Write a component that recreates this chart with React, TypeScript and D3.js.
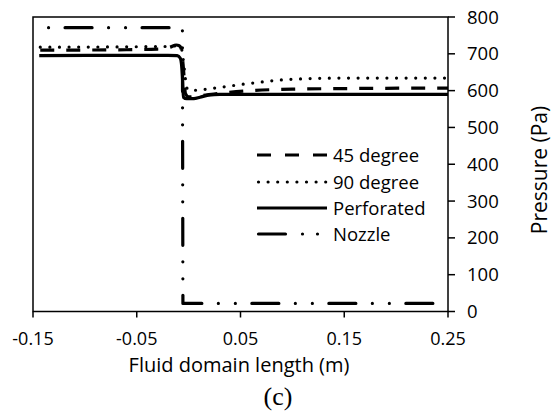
import { line, scaleLinear, curveMonotoneX } from "d3";

const WIDTH = 553;
const HEIGHT = 417;
const PLOT = { left: 33, right: 448, top: 17, bottom: 311.5 };

const xTicks = [-0.15, -0.05, 0.05, 0.15, 0.25];
const yTicks = [0, 100, 200, 300, 400, 500, 600, 700, 800];

// readings, [x (m), pressure (Pa)]
const deg45: [number, number][] = [
  [-0.143, 710], [-0.06, 711], [-0.03, 713], [-0.018, 718], [-0.012, 724],
  [-0.009, 722], [-0.007, 712], [-0.005, 660], [-0.003, 592], [0.0, 583],
  [0.01, 586], [0.03, 593], [0.06, 600], [0.1, 604], [0.17, 606], [0.25, 607],
];
const deg90: [number, number][] = [
  [-0.143, 718], [-0.06, 719], [-0.02, 720], [-0.01, 722], [-0.007, 715],
  [-0.005, 680], [-0.003, 630], [-0.001, 603], [0.005, 601], [0.025, 607],
  [0.06, 620], [0.1, 631], [0.15, 634], [0.25, 634],
];
const perforated: [number, number][] = [
  [-0.144, 695], [-0.02, 696], [-0.011, 695], [-0.008, 688], [-0.006, 640],
  [-0.005, 582], [-0.002, 578], [0.005, 578], [0.011, 582], [0.019, 588],
  [0.03, 590], [0.25, 590],
];
const nozzle: [number, number][] = [
  [-0.135, 771], [-0.006, 771], [-0.0055, 22], [0.25, 22],
];

const series = [
  { name: "45 degree", data: deg45, dash: "14 12", cap: "butt" },
  { name: "90 degree", data: deg90, dash: "0 9.6", cap: "round" },
  { name: "Perforated", data: perforated, dash: "", cap: "butt" },
  { name: "Nozzle", data: nozzle, dash: "0 16.5 27 16.5 0 17", cap: "round" },
];

const FONT = "'Open Sans', sans-serif";

export default function App() {
  const x = scaleLinear().domain([-0.15, 0.25]).range([PLOT.left, PLOT.right]);
  const y = scaleLinear().domain([0, 800]).range([PLOT.bottom, PLOT.top]);

  const smoothLine = line<[number, number]>()
    .x((d) => x(d[0]))
    .y((d) => y(d[1]))
    .curve(curveMonotoneX);
  const straightLine = line<[number, number]>()
    .x((d) => x(d[0]))
    .y((d) => y(d[1]));

  const legendX0 = 257;
  const legendX1 = 327;
  const legendY = [155, 182, 208, 234];

  return (
    <svg
      width={WIDTH}
      height={HEIGHT}
      viewBox={`0 0 ${WIDTH} ${HEIGHT}`}
      style={{ position: "absolute", left: 0, top: 0, background: "#fff" }}
    >
      <defs>
        <clipPath id="plotClip">
          <rect x={PLOT.left} y={PLOT.top - 4} width={PLOT.right - PLOT.left} height={PLOT.bottom - PLOT.top + 8} />
        </clipPath>
      </defs>

      <g clipPath="url(#plotClip)">
        {series.map((s) => {
          const gen = s.name === "Nozzle" ? straightLine : smoothLine;
          return (
            <path
              key={s.name}
              d={gen(s.data) ?? ""}
              fill="none"
              stroke="#000"
              strokeWidth={3.2}
              strokeDasharray={s.dash || undefined}
              strokeLinecap={s.cap as any}
              strokeLinejoin="round"
            />
          );
        })}
      </g>

      {/* plot frame */}
      <rect
        x={PLOT.left}
        y={PLOT.top}
        width={PLOT.right - PLOT.left}
        height={PLOT.bottom - PLOT.top}
        fill="none"
        stroke="#000"
        strokeWidth={1.5}
      />

      {/* x axis ticks */}
      {xTicks.map((t) => (
        <g key={t}>
          <line x1={x(t)} x2={x(t)} y1={PLOT.bottom} y2={PLOT.bottom + 6} stroke="#000" strokeWidth={1.5} />
          <text x={x(t)} y={344.5} textAnchor="middle" fontFamily={FONT} fontSize={18} fill="#000">
            {t.toFixed(2)}
          </text>
        </g>
      ))}

      {/* y axis ticks, right side */}
      {yTicks.map((t) => (
        <g key={t}>
          <line x1={PLOT.right} x2={PLOT.right + 7} y1={y(t)} y2={y(t)} stroke="#000" strokeWidth={1.5} />
          <text x={467} y={y(t) + 6.6} fontFamily={FONT} fontSize={18.5} fill="#000">
            {t}
          </text>
        </g>
      ))}

      <text x={239} y={371.5} textAnchor="middle" fontFamily={FONT} fontSize={20} fill="#000">
        Fluid domain length (m)
      </text>
      <text
        transform={`translate(547, 170) rotate(-90)`}
        textAnchor="middle"
        fontFamily={FONT}
        fontSize={21}
        fill="#000"
      >
        Pressure (Pa)
      </text>
      <text x={278} y={405} textAnchor="middle" fontFamily="'Liberation Serif', 'Times New Roman', serif" fontSize={26} fill="#000">
        (c)
      </text>

      {/* legend */}
      {series.map((s, i) => (
        <g key={s.name}>
          <line
            x1={s.cap === "round" ? legendX0 + 1.5 : legendX0}
            x2={legendX1}
            y1={legendY[i]}
            y2={legendY[i]}
            stroke="#000"
            strokeWidth={3.2}
            strokeDasharray={
              s.name === "Nozzle" ? "27 17 0 15 0 40" : s.name === "45 degree" ? "14 14" : s.dash || undefined
            }
            strokeLinecap={s.cap as any}
          />
          <text x={333} y={legendY[i] + 6.6} fontFamily={FONT} fontSize={18.5} fill="#000">
            {s.name}
          </text>
        </g>
      ))}
    </svg>
  );
}
